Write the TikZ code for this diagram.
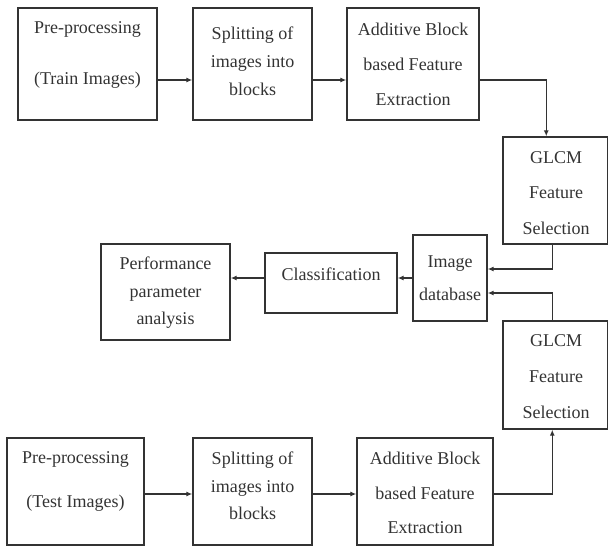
\documentclass[tikz,border=0pt]{standalone}
\usepackage{fontspec}
\setmainfont{Liberation Serif}
\usetikzlibrary{arrows.meta}
\definecolor{ink}{gray}{0.2}
\tikzset{
  box/.style={draw=ink, line width=1.4pt, rectangle, inner sep=0pt},
  txt/.style={align=center, inner sep=0pt, text=ink, font=\fontsize{18}{#1}\selectfont},
  arr/.style={draw=ink, line width=1.3pt, -{Latex[length=6pt,width=5pt]}}
}
\begin{document}
\begin{tikzpicture}[x=1pt,y=-1pt]
\useasboundingbox (0,0) rectangle (609,547);
% top row
\node[box, minimum width=139pt, minimum height=112pt] (b1) at (87.5,64) {};
\node[box, minimum width=119pt, minimum height=112pt] (b2) at (252.5,64) {};
\node[box, minimum width=132pt, minimum height=112pt] (b3) at (413,64) {};
\node[txt=51] (t1) at (87.5,55) {Pre-processing\\(Train Images)};
\node[txt=28] (t2) at (252.5,61) {Splitting of\\images into\\blocks};
\node[txt=35] (t3) at (413,64) {Additive Block\\based Feature\\Extraction};
% GLCM boxes
\node[box, minimum width=104.5pt, minimum height=107pt] (g1) at (555.25,190.5) {};
\node[txt=35.5] (tg1) at (556,193) {GLCM\\Feature\\Selection};
\node[box, minimum width=104.5pt, minimum height=108pt] (g2) at (555.25,375) {};
\node[txt=36] (tg2) at (556,377) {GLCM\\Feature\\Selection};
% middle row
\node[box, minimum width=74pt, minimum height=86pt] (db) at (450,278) {};
\node[txt=33] (tdb) at (450,278) {Image\\database};
\node[box, minimum width=132pt, minimum height=60pt] (cls) at (331,283) {};
\node[txt=20] (tcls) at (331,274) {Classification};
\node[box, minimum width=129pt, minimum height=96pt] (perf) at (165.5,292) {};
\node[txt=27.5] (tperf) at (165.5,293) {Performance\\parameter\\analysis};
% bottom row
\node[box, minimum width=137pt, minimum height=107pt] (b9) at (75.5,491.5) {};
\node[box, minimum width=119pt, minimum height=107pt] (b10) at (252.5,491.5) {};
\node[box, minimum width=136pt, minimum height=107pt] (b11) at (425,491.5) {};
\node[txt=44] (t9) at (75.5,481) {Pre-processing\\(Test Images)};
\node[txt=27.5] (t10) at (252.5,486) {Splitting of\\images into\\blocks};
\node[txt=34.5] (t11) at (425,493) {Additive Block\\based Feature\\Extraction};
% connectors top
\draw[arr] (b1.east) ++(0,16) coordinate (p1) -- (p1 -| b2.west);
\draw[arr] (b2.east) ++(0,16) coordinate (p2) -- (p2 -| b3.west);
\draw[arr] (b3.east) ++(0,16) -| ([xshift=-9pt]g1.north);
% connectors to database
\draw[arr] ([xshift=-3pt]g1.south) |- ([yshift=9pt]db.east);
\draw[arr] ([xshift=-3pt]g2.north) |- ([yshift=-15pt]db.east);
\draw[arr] (db.west) -- (db.west -| cls.east);
\draw[arr] (db.west -| cls.west) -- (db.west -| perf.east);
% connectors bottom
\draw[arr] (b9.east) ++(0,2.5) coordinate (p9) -- (p9 -| b10.west);
\draw[arr] (b10.east) ++(0,2.5) coordinate (p10) -- (p10 -| b11.west);
\draw[arr] (b11.east) ++(0,2.5) -| ([xshift=-3pt]g2.south);
\end{tikzpicture}
\end{document}
